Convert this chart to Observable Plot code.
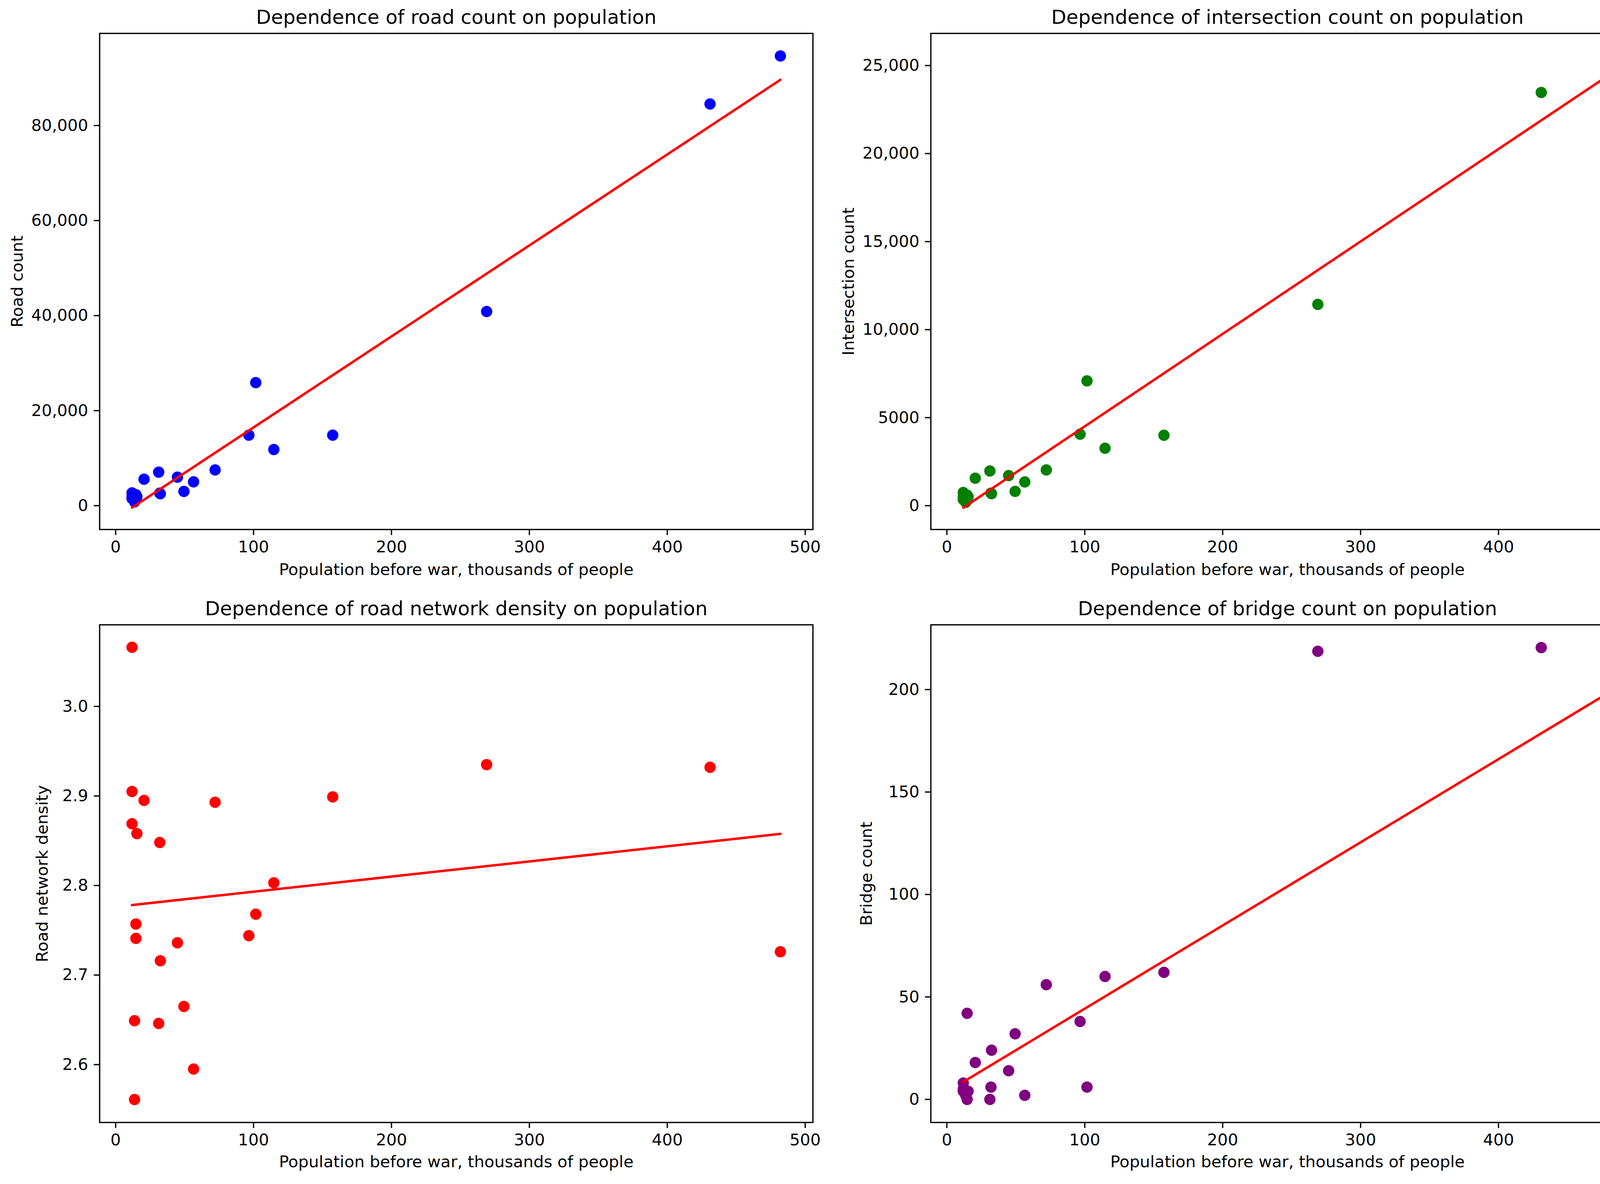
<!DOCTYPE html>
<html>
<head>
<meta charset="utf-8">
<script src="https://cdn.jsdelivr.net/npm/d3@7"></script>
<script src="https://cdn.jsdelivr.net/npm/@observablehq/plot@0.6"></script>
<style>
  html, body { margin: 0; padding: 0; background: #fff; overflow: hidden; }
  #fig { position: relative; width: 4255px; height: 3031px; background: #fff; font-family: "DejaVu Sans", sans-serif; overflow: hidden; }
  #fig svg { position: absolute; overflow: visible; max-width: none; }
</style>
</head>
<body>
<div id="fig"></div>
<script>
// Population before war, thousands of people (one entry per city)
const population   = [11.9, 11.9, 11.9, 13.7, 13.7, 14.7, 14.7, 15.4, 20.6, 31.2, 32.0, 32.4, 44.8, 49.5, 56.5, 72.1, 96.6, 101.6, 114.7, 157.4, 269, 431, 482];
const roadCount    = [2700, 1500, 1900, 1100, 800, 2300, 1300, 1900, 5570, 7050, 2630, 2500, 6000, 2990, 5020, 7520, 14830, 25900, 11820, 14830, 40850, 84540, 94650];
const intersectionCount = [750, 350, 500, 250, 190, 600, 300, 500, 1560, 1970, 710, 680, 1710, 810, 1350, 2030, 4060, 7090, 3260, 4000, 11430, 23470, 25550];
const roadDensity  = [3.066, 2.905, 2.869, 2.649, 2.561, 2.757, 2.741, 2.858, 2.895, 2.646, 2.848, 2.716, 2.736, 2.665, 2.595, 2.893, 2.744, 2.768, 2.803, 2.899, 2.935, 2.932, 2.726];
const bridgeCount  = [8, 5, 4, 3, 2, 42, 0, 4, 18, 0, 6, 24, 14, 32, 2, 56, 38, 6, 60, 62, 218.7, 220.5, 112];

const xTicks = [0, 100, 200, 300, 400, 500];
const roadTicks = [0, 20000, 40000, 60000, 80000];
const intersectionTicks = [0, 5000, 10000, 15000, 20000, 25000];
const densityTicks = [2.6, 2.7, 2.8, 2.9, 3.0];
const bridgeTicks = [0, 50, 100, 150, 200];

const xLabel = "Population before war, thousands of people";
const titles = [
  "Dependence of road count on population",
  "Dependence of intersection count on population",
  "Dependence of road network density on population",
  "Dependence of bridge count on population"
];
const yLabels = ["Road count", "Intersection count", "Road network density", "Bridge count"];

const mplInt = d => (Math.abs(d) >= 10000 ? d3.format(",")(d) : String(d));

const FS = 41.7;     // 10pt @ 300dpi
const TICK = 14.6;   // 3.5pt
const SPINE = 3.3;   // 0.8pt

function panel(cfg) {
  const data = population.map((x, i) => ({x, y: cfg.values[i]}));
  const svg = Plot.plot({
    width: cfg.width,
    height: cfg.height,
    marginTop: cfg.mt,
    marginBottom: cfg.mb,
    marginLeft: cfg.ml,
    marginRight: cfg.mr,
    style: {fontFamily: "DejaVu Sans", fontSize: FS + "px", background: "transparent", color: "black", overflow: "visible"},
    x: {domain: [-11.6, 505.6]},
    y: {domain: cfg.yDomain},
    marks: [
      Plot.dot(data, {x: "x", y: "y", r: 14.5, fill: cfg.color}),
      Plot.linearRegressionY(data, {x: "x", y: "y", stroke: "red", strokeWidth: 6.25, ci: 0}),
      Plot.frame({stroke: "black", strokeWidth: SPINE}),
      Plot.axisX({ticks: xTicks, tickSize: TICK, tickPadding: TICK, strokeWidth: SPINE, label: null, tickFormat: d => String(d), fontSize: FS}),
      Plot.axisY({ticks: cfg.yTicks, tickSize: TICK, tickPadding: TICK, strokeWidth: SPINE, label: null, tickFormat: cfg.yFormat, fontSize: FS}),
      Plot.text([cfg.title], {text: d => d, frameAnchor: "top", lineAnchor: "bottom", dy: -25, fontSize: 50}),
      Plot.text([xLabel], {text: d => d, frameAnchor: "bottom", lineAnchor: "bottom", dy: cfg.xLabelDy, fontSize: FS}),
      Plot.text([cfg.yLabel], {text: d => d, frameAnchor: "left", rotate: -90, textAnchor: "middle", lineAnchor: "middle", dx: cfg.yLabelDx, fontSize: FS})
    ]
  });
  svg.style.left = cfg.left + "px";
  svg.style.top = cfg.top + "px";
  document.getElementById("fig").appendChild(svg);
}

const colW = [2128, 2127];
const rowH = [1515, 1516];

panel({values: roadCount, color: "blue", title: titles[0], yLabel: yLabels[0],
  yDomain: [-5016, 99391], yTicks: roadTicks, yFormat: mplInt, yLabelDx: -210, xLabelDy: 116,
  left: 0, top: 0, width: colW[0], height: rowH[0], mt: 85, mb: 160, ml: 254.6, mr: 47.4});

panel({values: intersectionCount, color: "green", title: titles[1], yLabel: yLabels[1],
  yDomain: [-1354, 26826], yTicks: intersectionTicks, yFormat: mplInt, yLabelDx: -210, xLabelDy: 116,
  left: 2128, top: 0, width: colW[1], height: rowH[0], mt: 85, mb: 160, ml: 254.5, mr: 46.5});

panel({values: roadDensity, color: "red", title: titles[2], yLabel: yLabels[2],
  yDomain: [2.5354, 3.0911], yTicks: densityTicks, yFormat: d3.format(".1f"), yLabelDx: -146, xLabelDy: 114,
  left: 0, top: 1515, width: colW[0], height: rowH[1], mt: 84, mb: 158, ml: 254.6, mr: 47.4});

panel({values: bridgeCount, color: "purple", title: titles[3], yLabel: yLabels[3],
  yDomain: [-11.26, 231.6], yTicks: bridgeTicks, yFormat: d => String(d), yLabelDx: -164, xLabelDy: 114,
  left: 2128, top: 1515, width: colW[1], height: rowH[1], mt: 84, mb: 158, ml: 254.5, mr: 46.5});
</script>
</body>
</html>
